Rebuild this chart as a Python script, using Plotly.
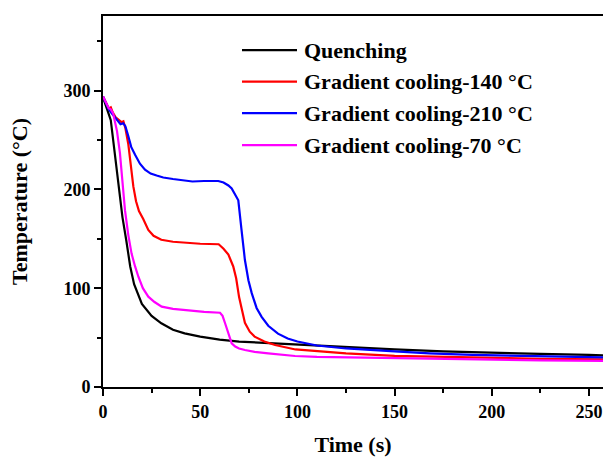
import plotly.graph_objects as go

# ---------------- data ----------------
series_names = ["Quenching", "Gradient cooling-140 °C", "Gradient cooling-210 °C", "Gradient cooling-70 °C"]
series_colors = ["#000000", "#ff0000", "#0000ff", "#ff00ff"]

quench_t = [0, 1, 2, 3, 4, 4.5, 5, 6, 7, 8.5, 10, 12, 14, 16, 18, 20, 25, 30, 36, 42, 50, 60, 70, 85, 100, 125, 150, 175, 200, 225, 250, 258]
quench_T = [293, 288, 282, 276, 270, 262, 255, 240, 223, 199, 172, 148, 122, 104, 93, 84, 72, 64.5, 58, 54.3, 51, 48, 46, 44.5, 43, 40, 38, 36, 34.5, 33.5, 32.5, 32]

g140_t = [0, 1.5, 3, 4, 5, 6.5, 8, 9.5, 10.5, 11.5, 13, 14.5, 15.6, 17, 18.5, 20.7, 23.3, 26, 30, 36, 44, 50, 59.5, 62, 64.5, 67, 68.5, 70, 71.5, 73, 75.5, 78, 83, 88.5, 99, 110, 125, 150, 175, 200, 225, 258]
g140_T = [294, 288, 282, 283, 278, 273, 270, 268, 269, 262, 246, 222, 203, 188, 178, 170, 159, 153, 149, 147, 145.5, 145, 144.5, 140, 134, 122, 110, 91, 78, 65, 56, 51, 46, 42.5, 38, 36, 34, 31.5, 30.5, 29.5, 28.5, 28]

g210_t = [0, 1.5, 3, 4.5, 6, 7.5, 9, 10.4, 11.5, 13, 14.5, 16.5, 19, 21.6, 24.5, 27.6, 31, 36, 41, 46, 52, 59.3, 62, 64.5, 66.2, 67.5, 68.8, 69.6, 71.2, 73, 74.8, 76.5, 79, 81.6, 85, 90, 95, 100, 110, 125, 150, 168, 190, 211, 235, 258]
g210_T = [294, 287, 281, 277, 273, 269, 266, 267, 264, 254, 243, 235, 226, 220, 216, 214, 212, 210.5, 209, 208, 208.5, 208.5, 207, 204, 201, 196, 192, 189, 160, 128.5, 108, 95, 80, 71, 62, 54, 49, 46, 42, 39, 36, 34, 32.5, 31.5, 30.5, 30]

g70_t = [0, 1.5, 3, 4, 5.2, 6.2, 7.2, 8.7, 10, 11.3, 13, 14.7, 16.5, 18.2, 20.5, 23.3, 26.5, 30.2, 36, 43.9, 52, 60.2, 61.5, 62.8, 64.5, 66.2, 68, 70, 73, 78, 85, 92, 98.8, 110, 125, 150, 175, 200, 225, 258]
g70_T = [294, 288, 282, 281, 277, 268, 259, 237, 206, 179, 154, 135, 122, 111.6, 100, 91.4, 86, 81.3, 79, 77.2, 76, 75.2, 72, 64.5, 54, 44.2, 41, 39, 37.4, 35.5, 34, 32.5, 31.4, 30.5, 30, 29, 28, 27.5, 27, 26.5]

x_ticks = [0, 50, 100, 150, 200, 250]
y_ticks = [0, 100, 200, 300]

FONT = "Liberation Serif"

fig = go.Figure()
all_t = [quench_t, g140_t, g210_t, g70_t]
all_T = [quench_T, g140_T, g210_T, g70_T]
for name, color, t, T in zip(series_names, series_colors, all_t, all_T):
    fig.add_trace(go.Scatter(x=t, y=T, mode="lines", name=name,
                             line=dict(color=color, width=2.2), showlegend=False))

# manual legend (long line samples like the original)
leg_y = [0.908, 0.823, 0.738, 0.652]
for name, color, yy in zip(series_names, series_colors, leg_y):
    fig.add_shape(type="line", xref="paper", yref="paper",
                  x0=0.278, x1=0.388, y0=yy, y1=yy,
                  line=dict(color=color, width=2.2))
    fig.add_annotation(xref="paper", yref="paper", x=0.398, y=yy,
                       text=name, showarrow=False, xanchor="left", yanchor="middle",
                       font=dict(family=FONT, size=22, color="black", weight="bold"))

axis_common = dict(
    showline=True, linecolor="black", linewidth=2,
    ticks="outside", ticklen=7, tickwidth=2, tickcolor="black",
    showgrid=False, zeroline=False,
    tickfont=dict(family=FONT, size=18, color="black", weight="bold"),
)

fig.update_xaxes(range=[0, 257.2], tickvals=x_ticks, mirror=True,
                 minor=dict(tickvals=[25, 75, 125, 175, 225], ticks="outside", ticklen=4, tickwidth=2, tickcolor="black"),
                 title=dict(text="Time (s)", font=dict(family=FONT, size=22, color="black", weight="bold"), standoff=19),
                 **axis_common)
fig.update_yaxes(range=[0, 375.5], tickvals=y_ticks,
                 minor=dict(tickvals=[50, 150, 250, 350], ticks="outside", ticklen=4, tickwidth=2, tickcolor="black"),
                 title=dict(text="Temperature (°C)", font=dict(family=FONT, size=22, color="black", weight="bold"), standoff=30),
                 **axis_common)

fig.update_layout(
    width=603, height=457,
    margin=dict(l=103, r=0, t=16, b=70, autoexpand=False),
    plot_bgcolor="white", paper_bgcolor="white",
    showlegend=False,
)

fig.write_html("out.html")
